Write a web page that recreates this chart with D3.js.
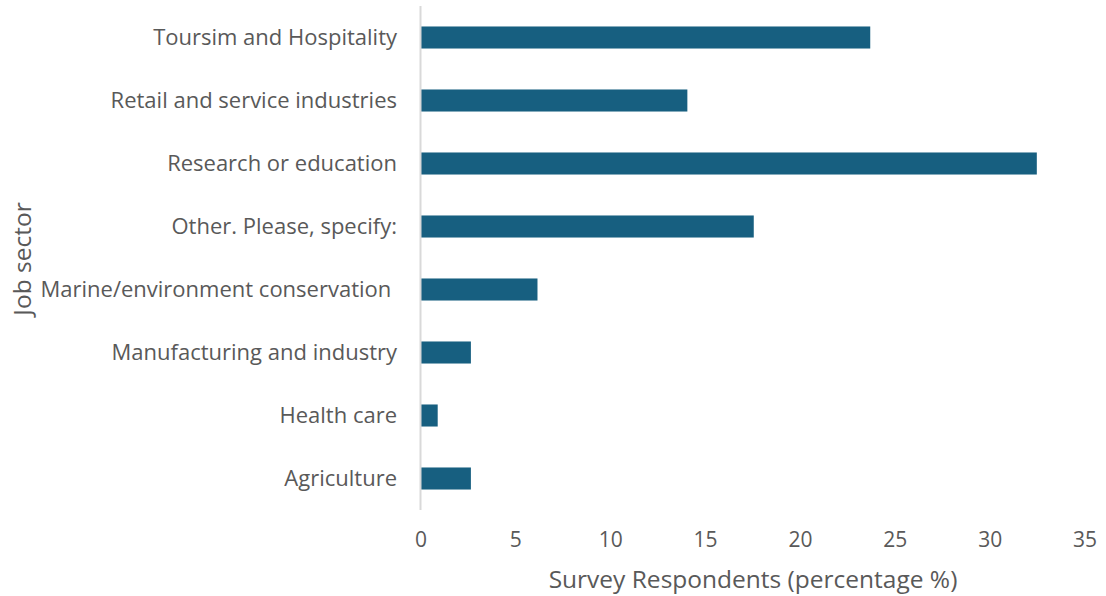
<!DOCTYPE html>
<html>
<head>
<meta charset="utf-8">
<script src="https://cdn.jsdelivr.net/npm/d3@7"></script>
<style>
  html, body { margin: 0; padding: 0; background: #ffffff; }
  svg { display: block; }
  text { font-family: "Open Sans", "Noto Sans", sans-serif; fill: #595959; }
</style>
</head>
<body>
<svg id="chart" width="1106" height="596"></svg>
<script>
// Job sector of survey respondents
const sectors = [
  "Toursim and Hospitality",
  "Retail and service industries",
  "Research or education",
  "Other. Please, specify:",
  "Marine/environment conservation ",
  "Manufacturing and industry",
  "Health care",
  "Agriculture"
];
const percentages = [23.68, 14.04, 32.46, 17.54, 6.14, 2.63, 0.88, 2.63];
const xTicks = [0, 5, 10, 15, 20, 25, 30, 35];

const data = sectors.map((s, i) => ({ sector: s, value: percentages[i] }));

const svg = d3.select("#chart");
const plotLeft = 421, plotRight = 1085, plotTop = 6, plotBottom = 510;

const x = d3.scaleLinear().domain([0, 35]).range([plotLeft, plotRight]);
const y = d3.scaleBand().domain(sectors).range([plotTop, plotBottom])
  .paddingInner(0.65).paddingOuter(0.325);

// bars
svg.append("g").selectAll("rect").data(data).join("rect")
  .attr("x", x(0))
  .attr("y", d => y(d.sector))
  .attr("width", d => x(d.value) - x(0))
  .attr("height", y.bandwidth())
  .attr("fill", "#175f80");

// vertical axis line
svg.append("line")
  .attr("x1", plotLeft - 0.5).attr("x2", plotLeft - 0.5)
  .attr("y1", plotTop).attr("y2", plotBottom)
  .attr("stroke", "#d9d9d9").attr("stroke-width", 2);

// category labels
svg.append("g").selectAll("text").data(sectors).join("text")
  .attr("x", 397)
  .attr("y", d => y(d) + y.bandwidth() / 2)
  .attr("dy", "0.35em")
  .attr("text-anchor", "end")
  .style("white-space", "pre")
  .attr("font-size", 22)
  .text(d => d);

// x tick labels
svg.append("g").selectAll("text").data(xTicks).join("text")
  .attr("x", d => x(d))
  .attr("y", 540)
  .attr("dy", "0.35em")
  .attr("text-anchor", "middle")
  .attr("font-size", 21)
  .text(d => d);

// axis titles
svg.append("text")
  .attr("x", 753).attr("y", 579)
  .attr("dy", "0.35em")
  .attr("text-anchor", "middle")
  .attr("font-size", 24.5)
  .text("Survey Respondents (percentage %)");

svg.append("text")
  .attr("transform", "translate(22,259) rotate(-90)")
  .attr("dy", "0.35em")
  .attr("text-anchor", "middle")
  .attr("font-size", 24.5)
  .text("Job sector");
</script>
</body>
</html>
